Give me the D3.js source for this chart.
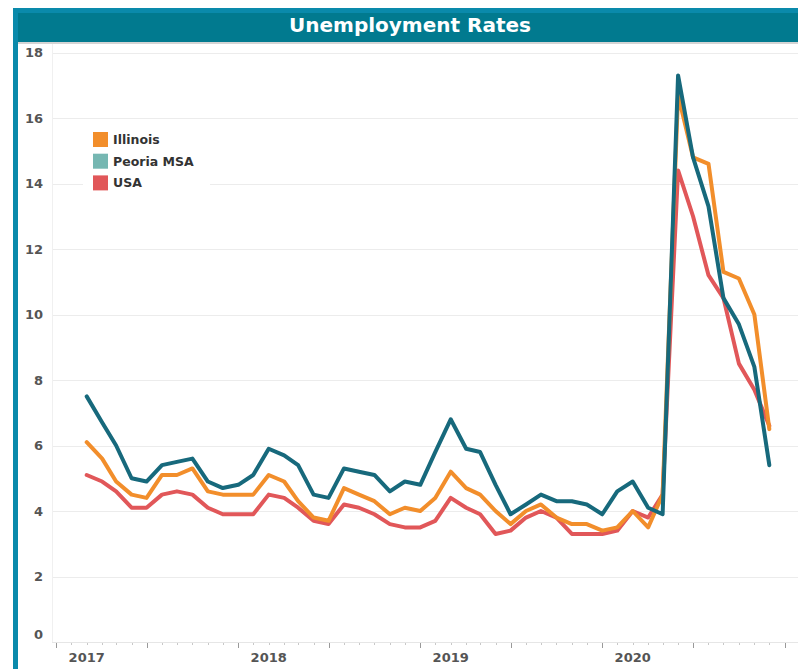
<!DOCTYPE html>
<meta charset="utf-8">
<style>
    body {
        margin: 0;
        background: #fff;
    }
    svg {
        display: block;
        font-family: "DejaVu Sans", Verdana, sans-serif;
    }
    .grid line {
        stroke: #ececec;
        stroke-width: 1;
    }
    .axis-label {
        font-size: 13px;
        font-weight: bold;
        fill: #555;
    }
    .legend text {
        font-size: 12.5px;
        font-weight: bold;
        fill: #333;
    }
    .series {
        fill: none;
        stroke-width: 4;
        stroke-linejoin: round;
        stroke-linecap: round;
    }
</style>
<body>
<svg width="798" height="669"></svg>
</body>
<script src="https://cdn.jsdelivr.net/npm/d3@7"></script>
<script>

    // monthly, Jan 2017 .. Oct 2020
    var firstMonth = new Date(2017, 0, 1);
    var illinois = [6.1, 5.6, 4.9, 4.5, 4.4, 5.1, 5.1, 5.3, 4.6, 4.5, 4.5, 4.5,
        5.1, 4.9, 4.3, 3.8, 3.7, 4.7, 4.5, 4.3, 3.9, 4.1, 4.0, 4.4,
        5.2, 4.7, 4.5, 4.0, 3.6, 4.0, 4.2, 3.8, 3.6, 3.6, 3.4, 3.5,
        4.0, 3.5, 4.5, 16.7, 14.8, 14.6, 11.3, 11.1, 10.0, 6.5];
    var peoria = [7.5, 6.7, 6.0, 5.0, 4.9, 5.4, 5.5, 5.6, 4.9, 4.7, 4.8, 5.1,
        5.9, 5.7, 5.4, 4.5, 4.4, 5.3, 5.2, 5.1, 4.6, 4.9, 4.8, 5.8,
        6.8, 5.9, 5.8, 4.8, 3.9, 4.2, 4.5, 4.3, 4.3, 4.2, 3.9, 4.6,
        4.9, 4.1, 3.9, 17.3, 14.8, 13.3, 10.5, 9.7, 8.4, 5.4];
    var usa = [5.1, 4.9, 4.6, 4.1, 4.1, 4.5, 4.6, 4.5, 4.1, 3.9, 3.9, 3.9,
        4.5, 4.4, 4.1, 3.7, 3.6, 4.2, 4.1, 3.9, 3.6, 3.5, 3.5, 3.7,
        4.4, 4.1, 3.9, 3.3, 3.4, 3.8, 4.0, 3.8, 3.3, 3.3, 3.3, 3.4,
        4.0, 3.8, 4.5, 14.4, 13.0, 11.2, 10.5, 8.5, 7.7, 6.6];

    var yearLabels = ["2017", "2018", "2019", "2020"];
    var yTicks = [0, 2, 4, 6, 8, 10, 12, 14, 16, 18];
    var legendNames = ["Illinois", "Peoria MSA", "USA"];
    var legendColors = ["#f28e2b", "#76b7b2", "#e15759"];

    var svg = d3.select("svg"),
        width = +svg.attr("width"),
        height = +svg.attr("height");

    var plotLeft = 52, plotTop = 44, plotBottom = 642;

    var months = d3.range(illinois.length).map(function (i) {
        return d3.timeMonth.offset(firstMonth, i);
    });

    var x = d3.scaleTime()
        .domain([new Date(2017, 0, 1), new Date(2020, 0, 1)])
        .range([86.7, 632.7]);

    var y = d3.scaleLinear()
        .domain([0, 18])
        .range([plotBottom, 52.5]);

    // frame + header
    svg.append("rect")
        .attr("x", 13).attr("y", 8)
        .attr("width", width - 13).attr("height", height - 8)
        .attr("fill", "#0a8aab");
    svg.append("rect")
        .attr("x", 18).attr("y", 13)
        .attr("width", width - 18).attr("height", 29)
        .attr("fill", "#017a8f");
    svg.append("rect")
        .attr("x", 18).attr("y", 42)
        .attr("width", width - 18).attr("height", 2)
        .attr("fill", "#d4d4d4");
    svg.append("rect")
        .attr("x", 18).attr("y", plotTop)
        .attr("width", width - 18).attr("height", height - plotTop)
        .attr("fill", "#fff");

    svg.append("text")
        .attr("x", 410)
        .attr("y", 25)
        .attr("text-anchor", "middle")
        .attr("dominant-baseline", "central")
        .style("font-size", "20px")
        .style("font-weight", "bold")
        .style("fill", "#fff")
        .text("Unemployment Rates");

    // gridlines
    svg.append("g")
        .attr("class", "grid")
        .selectAll("line")
        .data(yTicks.slice(1))
        .enter().append("line")
        .attr("x1", plotLeft).attr("x2", width)
        .attr("y1", function (d) { return Math.round(y(d)) + 0.5; })
        .attr("y2", function (d) { return Math.round(y(d)) + 0.5; });

    svg.append("line")
        .attr("x1", plotLeft + 0.5).attr("x2", plotLeft + 0.5)
        .attr("y1", plotTop).attr("y2", plotBottom)
        .attr("stroke", "#f0f0f0");
    svg.append("line")
        .attr("x1", plotLeft).attr("x2", width)
        .attr("y1", plotBottom + 0.5).attr("y2", plotBottom + 0.5)
        .attr("stroke", "#e6e6e6");

    // y labels
    svg.append("g")
        .selectAll("text")
        .data(yTicks)
        .enter().append("text")
        .attr("class", "axis-label")
        .attr("x", 43)
        .attr("y", function (d) { return d === 0 ? y(d) - 8 : y(d); })
        .attr("text-anchor", "end")
        .attr("dominant-baseline", "central")
        .text(function (d) { return d; });

    // x ticks
    var majorTicks = d3.timeMonth.range(new Date(2016, 10, 1), new Date(2021, 0, 1), 6);
    var minorTicks = d3.timeMonth.range(new Date(2016, 10, 1), new Date(2020, 11, 1));

    svg.append("g")
        .selectAll("line")
        .data(minorTicks)
        .enter().append("line")
        .attr("x1", function (d) { return Math.round(x(d)) + 0.5; })
        .attr("x2", function (d) { return Math.round(x(d)) + 0.5; })
        .attr("y1", plotBottom + 1).attr("y2", plotBottom + 3)
        .attr("stroke", "#c8c8c8");

    svg.append("g")
        .selectAll("line")
        .data(majorTicks)
        .enter().append("line")
        .attr("x1", function (d) { return Math.round(x(d)) + 0.5; })
        .attr("x2", function (d) { return Math.round(x(d)) + 0.5; })
        .attr("y1", plotBottom + 1).attr("y2", plotBottom + 6)
        .attr("stroke", "#999");

    svg.append("g")
        .selectAll("text")
        .data(yearLabels)
        .enter().append("text")
        .attr("class", "axis-label")
        .attr("x", function (d) { return x(new Date(+d, 0, 1)); })
        .attr("y", 657)
        .attr("text-anchor", "middle")
        .attr("dominant-baseline", "central")
        .text(function (d) { return d; });

    // lines
    var line = d3.line()
        .x(function (d, i) { return x(months[i]); })
        .y(function (d) { return y(d); });

    var series = [
        {values: usa, color: "#e15759"},
        {values: illinois, color: "#f28e2b"},
        {values: peoria, color: "#17697c"}
    ];

    svg.append("g")
        .selectAll("path")
        .data(series)
        .enter().append("path")
        .attr("class", "series")
        .attr("stroke", function (d) { return d.color; })
        .attr("d", function (d) { return line(d.values); });

    // legend
    svg.append("rect")
        .attr("x", 83).attr("y", 124)
        .attr("width", 127).attr("height", 64)
        .attr("fill", "#fff");

    var legend = svg.append("g")
        .attr("class", "legend")
        .selectAll("g")
        .data(legendNames)
        .enter().append("g")
        .attr("transform", function (d, i) {
            return "translate(93, " + (139.5 + i * 21.7) + ")";
        });

    legend.append("rect")
        .attr("x", 0).attr("y", -7.5)
        .attr("width", 15).attr("height", 15)
        .attr("fill", function (d, i) { return legendColors[i]; });

    legend.append("text")
        .attr("x", 20)
        .attr("y", 0)
        .attr("dominant-baseline", "central")
        .text(function (d) { return d; });

</script>
